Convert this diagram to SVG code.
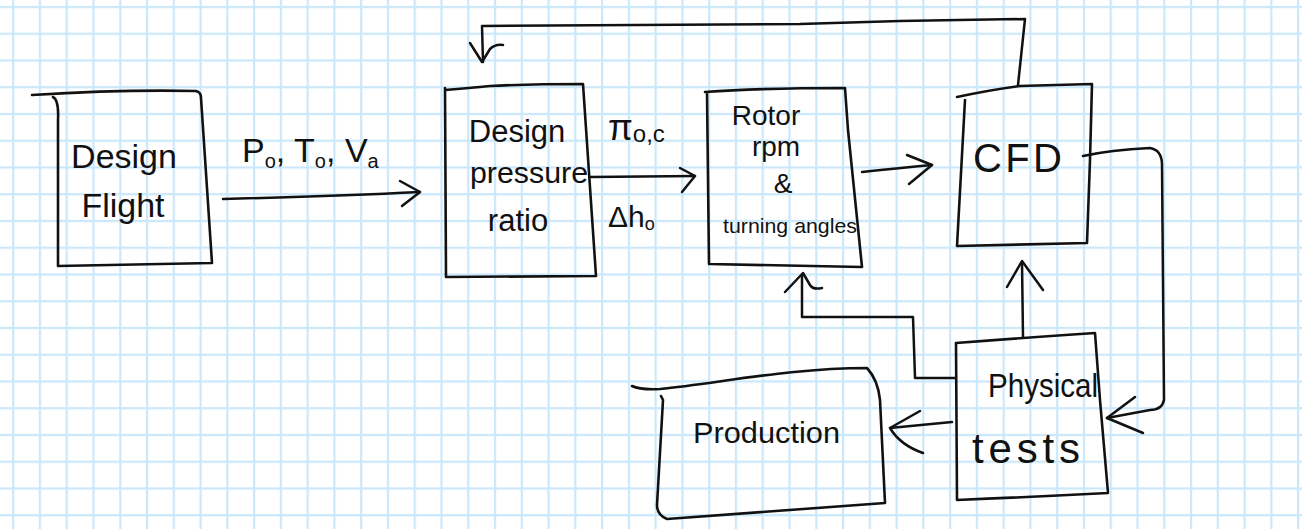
<svg xmlns="http://www.w3.org/2000/svg" width="1302" height="529" viewBox="0 0 1302 529">
<style>
.box{fill:none;stroke:#111;stroke-width:2.6;stroke-linecap:round;stroke-linejoin:round}
.ln{fill:none;stroke:#111;stroke-width:2.5;stroke-linecap:round;stroke-linejoin:round}
.t{font-family:"Liberation Sans","DejaVu Sans",sans-serif;fill:#111}
</style>
<defs>
<pattern id="grid" patternUnits="userSpaceOnUse" x="0.2" y="-6" width="26.77" height="26.75">
<path d="M13 0V26.75M0 13H26.77" stroke="#cbe8fb" stroke-width="2.2" fill="none"/>
</pattern>
</defs>
<rect width="1302" height="529" fill="#fff"/>
<rect width="1302" height="529" fill="url(#grid)"/>

<g id="connectors">
<path class="ln" d="M223,199 C300,197 380,194 420,192"/>
<path class="ln" d="M400,181 L420,192 L402,206"/>
<path class="ln" d="M590,177 L695,176"/>
<path class="ln" d="M680,168 L695,176 L682,192"/>
<path class="ln" d="M862,172 Q900,168 932,165"/>
<path class="ln" d="M907,155 L932,165 L909,184"/>
<path class="ln" d="M1018,85 L1025,19 L900,21 L800,24 L482,26 L483,62"/>
<path class="ln" d="M470,43 L482,62 L490,49 Q495,44 503,45"/>
<path class="ln" d="M1083,156 Q1110,150 1150,148 Q1162,150 1162,165 L1164,400 Q1162,410 1150,410 L1107,418"/>
<path class="ln" d="M1135,397 L1107,418 L1143,433"/>
<path class="ln" d="M1023,337 L1022,262"/>
<path class="ln" d="M1007,287 L1022,261 L1043,290"/>
<path class="ln" d="M955,378 L915,378 L913,317 L802,317 L802,276"/>
<path class="ln" d="M785,292 L803,273 L810,285 Q813,290 822,288"/>
<path class="ln" d="M952,422 L890,428"/>
<path class="ln" d="M920,411 L890,428 Q900,445 923,453"/>
</g>

<g id="design-flight">
<path class="box" d="M32,95 C80,92 150,90 196,91 Q201,92 201,98 L212,263 L58,266 L58,120 Q59,100 53,97"/>
<text class="t" x="124" y="168" font-size="34" text-anchor="middle">Design</text>
<text class="t" x="123" y="217" font-size="34" text-anchor="middle">Flight</text>
</g>

<g id="design-pressure-ratio">
<path class="box" d="M445,90 Q470,88 490,86 Q530,84 583,84 L596,276 L446,277 L445,88"/>
<text class="t" x="517" y="142" font-size="31" text-anchor="middle">Design</text>
<text class="t" x="470" y="183" font-size="30" textLength="118" lengthAdjust="spacingAndGlyphs">pressure</text>
<text class="t" x="518" y="231" font-size="31" text-anchor="middle">ratio</text>
</g>

<g id="labels">
<text class="t" x="242" y="162" font-size="34">P<tspan font-size="20" dy="6">o</tspan><tspan dy="-6">, T</tspan><tspan font-size="20" dy="6">o</tspan><tspan dy="-6">, V</tspan><tspan font-size="20" dy="6">a</tspan></text>
<text class="t" x="608" y="140" font-size="36">π<tspan font-size="24" dy="2">o,c</tspan></text>
<text class="t" x="608" y="227" font-size="30">Δh<tspan font-size="18" dy="3">o</tspan></text>
</g>

<g id="rotor">
<path class="box" d="M705,92 Q760,88 845,88 L848,130 L862,267 L709,264 L707,92"/>
<text class="t" x="766" y="125" font-size="28" text-anchor="middle">Rotor</text>
<text class="t" x="776" y="156" font-size="28" text-anchor="middle">rpm</text>
<text class="t" x="783" y="193" font-size="28" text-anchor="middle">&amp;</text>
<text class="t" x="723" y="233" font-size="21" textLength="134" lengthAdjust="spacingAndGlyphs">turning angles</text>
</g>

<g id="cfd">
<path class="box" d="M957,97 Q990,90 1020,86 L1092,84 L1090,160 L1087,243 L957,246 L965,100"/>
<text class="t" x="973" y="172" font-size="40" textLength="89" lengthAdjust="spacing">CFD</text>
</g>

<g id="physical-tests">
<path class="box" d="M956,343 Q1020,338 1095,333 L1100,400 L1108,493 Q1030,497 957,500 L956,343"/>
<text class="t" x="988" y="397" font-size="34" textLength="110" lengthAdjust="spacingAndGlyphs">Physical</text>
<text class="t" x="972" y="463" font-size="42" textLength="108" lengthAdjust="spacing">tests</text>
</g>

<g id="production">
<path class="box" d="M632,386 Q640,390 660,389 C720,383 790,368 867,368 Q878,380 880,400 L885,503 L667,519 Q657,515 657,505 L663,400 L661,396"/>
<text class="t" x="693" y="443" font-size="30" textLength="147" lengthAdjust="spacingAndGlyphs">Production</text>
</g>
</svg>
